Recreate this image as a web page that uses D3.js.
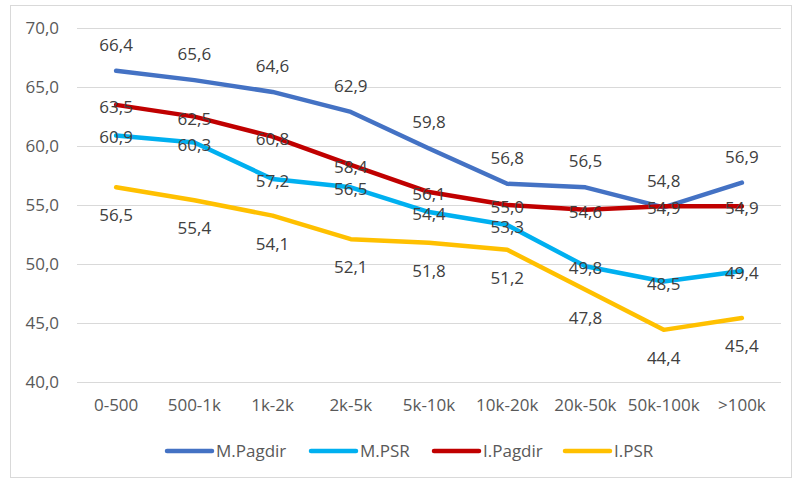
<!DOCTYPE html>
<html>
<head>
<meta charset="utf-8">
<script src="https://cdn.jsdelivr.net/npm/d3@7/dist/d3.min.js"></script>
<style>
  body { margin: 0; background: #fff; }
  svg text { font-family: "Open Sans", "Liberation Sans", sans-serif; }
</style>
</head>
<body>
<svg id="chart" width="793" height="480"></svg>
<script>
// categories and series
var categories = ["0-500", "500-1k", "1k-2k", "2k-5k", "5k-10k", "10k-20k", "20k-50k", "50k-100k", ">100k"];
var mPagdir = [66.4, 65.6, 64.6, 62.9, 59.8, 56.8, 56.5, 54.8, 56.9];
var mPsr    = [60.9, 60.3, 57.2, 56.5, 54.4, 53.3, 49.8, 48.5, 49.4];
var iPagdir = [63.5, 62.5, 60.8, 58.4, 56.1, 55.0, 54.6, 54.9, 54.9];
var iPsr    = [56.5, 55.4, 54.1, 52.1, 51.8, 51.2, 47.8, 44.4, 45.4];
var yTicks  = [40, 45, 50, 55, 60, 65, 70];

var seriesList = [
    { name: "M.Pagdir", values: mPagdir, color: "#4472C4", labelPos: "above" },
    { name: "M.PSR",    values: mPsr,    color: "#00B0F0", labelPos: "center" },
    { name: "I.Pagdir", values: iPagdir, color: "#C00000", labelPos: "center" },
    { name: "I.PSR",    values: iPsr,    color: "#FFC000", labelPos: "below" }
];

var svg = d3.select("#chart");
var fmt = function(v) { return d3.format(".1f")(v).replace(".", ","); };

// chart area border
svg.append("rect")
    .attr("x", 10.5).attr("y", 5.5)
    .attr("width", 781).attr("height", 472)
    .attr("fill", "none").attr("stroke", "#d9d9d9");

var x = d3.scaleBand().domain(categories).range([77, 781]);
var y = d3.scaleLinear().domain([40, 70]).range([381.7, 28.3]);

// gridlines
svg.append("g").selectAll("line")
    .data(yTicks).enter().append("line")
    .attr("x1", 77).attr("x2", 781)
    .attr("y1", function(d) { return Math.round(y(d)) + 0.5; })
    .attr("y2", function(d) { return Math.round(y(d)) + 0.5; })
    .attr("stroke", "#d9d9d9").attr("stroke-width", 1.2);

// y axis labels
var yAxis = d3.axisLeft(y).tickValues(yTicks).tickFormat(fmt).tickSize(0).tickPadding(18);
var gy = svg.append("g").attr("transform", "translate(77,0)").call(yAxis);
gy.select(".domain").remove();
gy.selectAll("text").attr("fill", "#595959").style("font-size", "17px")
    .style("font-family", "'Open Sans', sans-serif");

// x axis labels
var xAxis = d3.axisBottom(x).tickSize(0).tickPadding(17);
var gx = svg.append("g").attr("transform", "translate(0,381.7)").call(xAxis);
gx.select(".domain").remove();
gx.selectAll("text").attr("fill", "#595959").style("font-size", "17px")
    .style("font-family", "'Open Sans', sans-serif");

var line = d3.line()
    .x(function(d, i) { return x(categories[i]) + x.bandwidth() / 2; })
    .y(function(d) { return y(d); });

// lines
seriesList.forEach(function(s) {
    svg.append("path")
        .datum(s.values)
        .attr("d", line)
        .attr("fill", "none")
        .attr("stroke", s.color)
        .attr("stroke-width", 4.5)
        .attr("stroke-linejoin", "round")
        .attr("stroke-linecap", "round");
});

// data labels
seriesList.forEach(function(s) {
    var off = s.labelPos === "above" ? -26 : (s.labelPos === "below" ? 28 : 2);
    svg.append("g").selectAll("text")
        .data(s.values).enter().append("text")
        .attr("x", function(d, i) { return x(categories[i]) + x.bandwidth() / 2; })
        .attr("y", function(d) { return y(d) + off + 6; })
        .attr("text-anchor", "middle")
        .attr("fill", "#404040")
        .style("font-size", "17px")
        .text(fmt);
});

// legend
var legendX = [167, 311, 434, 565];
var legend = svg.append("g").selectAll("g")
    .data(seriesList).enter().append("g")
    .attr("transform", function(d, i) { return "translate(" + legendX[i] + ",451)"; });
legend.append("line")
    .attr("x1", 0).attr("x2", 45)
    .attr("stroke", function(d) { return d.color; })
    .attr("stroke-width", 4.5)
    .attr("stroke-linecap", "round");
legend.append("text")
    .attr("x", 49).attr("y", 6)
    .attr("fill", "#595959")
    .style("font-size", "17px")
    .text(function(d) { return d.name; });
</script>
</body>
</html>
